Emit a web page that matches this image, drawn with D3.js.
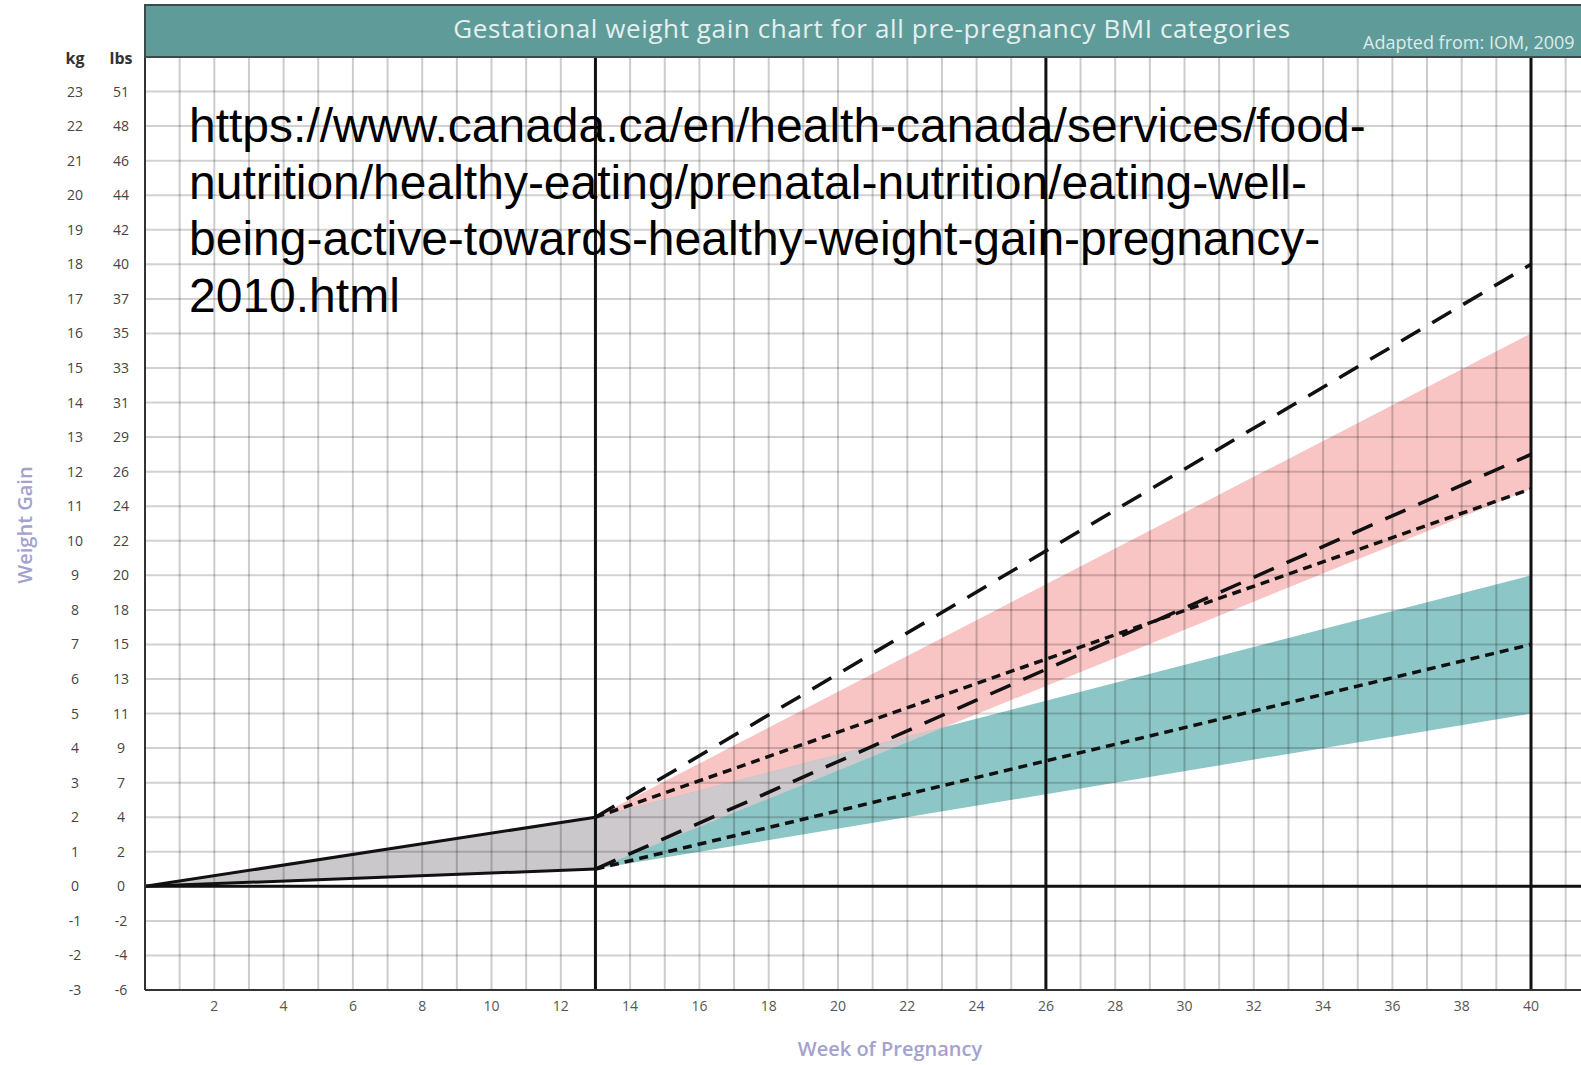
<!DOCTYPE html>
<html>
<head>
<meta charset="utf-8">
<script src="https://cdn.jsdelivr.net/npm/d3@7"></script>
<style>
  html, body { margin: 0; padding: 0; background: #ffffff; }
  svg { display: block; }
</style>
</head>
<body>
<script>
// ---------------- data ----------------
const chartTitle = "Gestational weight gain chart for all pre-pregnancy BMI categories";
const sourceNote = "Adapted from: IOM, 2009";
const xTitle = "Week of Pregnancy";
const yTitle = "Weight Gain";
const weekTicks = [2, 4, 6, 8, 10, 12, 14, 16, 18, 20, 22, 24, 26, 28, 30, 32, 34, 36, 38, 40];
const kgTicks = [23, 22, 21, 20, 19, 18, 17, 16, 15, 14, 13, 12, 11, 10, 9, 8, 7, 6, 5, 4, 3, 2, 1, 0, -1, -2, -3];
const lbsTicks = [51, 48, 46, 44, 42, 40, 37, 35, 33, 31, 29, 26, 24, 22, 20, 18, 15, 13, 11, 9, 7, 4, 2, 0, -2, -4, -6];
const trimesterMarks = [13, 26, 40];

// first trimester (weeks 0 -> 13)
const firstWeeks = [0, 13];
const firstLow = [0, 0.5];
const firstHigh = [0, 2];

// second and third trimesters (weeks 13 -> 40), kg
const laterWeeks = [13, 40];
const normalLow = [0.5, 11.5];   // pink band
const normalHigh = [2, 16];
const obeseLow = [0.5, 5];       // teal band
const obeseHigh = [2, 9];
const underLow = [0.5, 12.5];    // long dashes
const underHigh = [2, 18];
const overLow = [0.5, 7];        // short dashes
const overHigh = [2, 11.5];

const urlLines = [
  "https://www.canada.ca/en/health-canada/services/food-",
  "nutrition/healthy-eating/prenatal-nutrition/eating-well-",
  "being-active-towards-healthy-weight-gain-pregnancy-",
  "2010.html"
];

// ---------------- layout ----------------
const W = 1581, H = 1065;
const left = 145, headerTop = 5, plotTop = 57, plotBottom = 990;
const x = d3.scaleLinear().domain([0, 40]).range([left, 1531]);
const y = d3.scaleLinear().domain([-3, 24]).range([plotBottom, plotTop]);
const xMax = x.invert(W + 5);

const svg = d3.select("body").append("svg").attr("width", W).attr("height", H);

const band = (lo, hi) => laterWeeks.map((w, i) => ({ w, lo: lo[i], hi: hi[i] }));
const area = d3.area().x(d => x(d.w)).y0(d => y(d.lo)).y1(d => y(d.hi));
const lineOf = vals => d3.line().x((d, i) => x(laterWeeks[i])).y(d => y(d))(vals);

// clip for plot area
svg.append("clipPath").attr("id", "plotclip").append("rect")
  .attr("x", left).attr("y", plotTop).attr("width", W - left + 10).attr("height", plotBottom - plotTop);

const plot = svg.append("g").attr("clip-path", "url(#plotclip)");

// bands
plot.append("path").datum(band(normalLow, normalHigh)).attr("d", area).attr("fill", "#f9c4c4");
plot.append("path").datum(band(obeseLow, obeseHigh)).attr("d", area).attr("fill", "#8dc6c6");
svg.append("clipPath").attr("id", "pinkclip").append("path")
  .datum(band(normalLow, normalHigh)).attr("d", area);
plot.append("g").attr("clip-path", "url(#pinkclip)").append("path")
  .datum(band(obeseLow, obeseHigh)).attr("d", area).attr("fill", "#cdc9cc");

// first trimester fill
const firstData = firstWeeks.map((w, i) => ({ w, lo: firstLow[i], hi: firstHigh[i] }));
plot.append("path").datum(firstData).attr("d", area).attr("fill", "#cac8ca");

// grid
const gridWeeks = d3.range(1, Math.floor(xMax) + 1);
const gridKg = d3.range(-2, 24);
plot.append("g").selectAll("line").data(gridWeeks).join("line")
  .attr("x1", d => x(d)).attr("x2", d => x(d))
  .attr("y1", plotTop).attr("y2", plotBottom)
  .attr("stroke", "rgba(0,0,0,0.2)").attr("stroke-width", 2);
plot.append("g").selectAll("line").data(gridKg).join("line")
  .attr("x1", left).attr("x2", W + 5)
  .attr("y1", d => y(d)).attr("y2", d => y(d))
  .attr("stroke", "rgba(0,0,0,0.18)").attr("stroke-width", 2);

// heavy reference lines
plot.append("line").attr("x1", left).attr("x2", W + 5).attr("y1", y(0)).attr("y2", y(0))
  .attr("stroke", "#111").attr("stroke-width", 3);
plot.append("g").selectAll("line").data(trimesterMarks).join("line")
  .attr("x1", d => x(d)).attr("x2", d => x(d))
  .attr("y1", plotTop).attr("y2", plotBottom)
  .attr("stroke", "#111").attr("stroke-width", 3);

// dashed guide lines
const dashStyle = (p, dash) => p.attr("fill", "none").attr("stroke", "#111")
  .attr("stroke-width", 3.5).attr("stroke-dasharray", dash);
dashStyle(plot.append("path").attr("d", lineOf(underHigh)), "22,14");
dashStyle(plot.append("path").attr("d", lineOf(underLow)), "22,14");
dashStyle(plot.append("path").attr("d", lineOf(overHigh)), "9,6");
dashStyle(plot.append("path").attr("d", lineOf(overLow)), "9,6");

// first trimester solid lines
const firstLine = vals => d3.line().x((d, i) => x(firstWeeks[i])).y(d => y(d))(vals);
plot.append("path").attr("d", firstLine(firstHigh)).attr("fill", "none").attr("stroke", "#111").attr("stroke-width", 3);
plot.append("path").attr("d", firstLine(firstLow)).attr("fill", "none").attr("stroke", "#111").attr("stroke-width", 3);

// borders
svg.append("line").attr("x1", left).attr("x2", left).attr("y1", headerTop).attr("y2", plotBottom)
  .attr("stroke", "#333").attr("stroke-width", 2);
svg.append("line").attr("x1", left).attr("x2", W + 5).attr("y1", plotBottom).attr("y2", plotBottom)
  .attr("stroke", "#333").attr("stroke-width", 2);

// header
svg.append("rect").attr("x", left).attr("y", headerTop).attr("width", W - left + 20).attr("height", plotTop - headerTop)
  .attr("fill", "#5f9b99").attr("stroke", "#3d4a4a").attr("stroke-width", 2);
svg.append("text").attr("x", 872).attr("y", 38).attr("text-anchor", "middle")
  .attr("font-family", "'Open Sans', sans-serif").attr("font-size", 26).attr("letter-spacing", 0.6)
  .attr("fill", "#e3f0ef").text(chartTitle);
svg.append("text").attr("x", 1363).attr("y", 49)
  .attr("font-family", "'Open Sans', sans-serif").attr("font-size", 18).attr("fill", "#dcebea")
  .text(sourceNote);

// y labels
const labFont = "'Open Sans', sans-serif";
svg.append("g").selectAll("text").data(kgTicks).join("text")
  .attr("x", 75).attr("y", d => y(d) + 5).attr("text-anchor", "middle")
  .attr("font-family", labFont).attr("font-size", 14).attr("fill", "#444").text(d => d);
svg.append("g").selectAll("text").data(lbsTicks).join("text")
  .attr("x", 121).attr("y", (d, i) => y(kgTicks[i]) + 5).attr("text-anchor", "middle")
  .attr("font-family", labFont).attr("font-size", 14).attr("fill", "#444").text(d => d);
svg.append("text").attr("x", 75).attr("y", 64).attr("text-anchor", "middle")
  .attr("font-family", labFont).attr("font-size", 16).attr("font-weight", "bold").attr("fill", "#333").text("kg");
svg.append("text").attr("x", 121).attr("y", 64).attr("text-anchor", "middle")
  .attr("font-family", labFont).attr("font-size", 16).attr("font-weight", "bold").attr("fill", "#333").text("lbs");

// x labels
svg.append("g").selectAll("text").data(weekTicks).join("text")
  .attr("x", d => x(d)).attr("y", 1011).attr("text-anchor", "middle")
  .attr("font-family", labFont).attr("font-size", 14).attr("fill", "#555").text(d => d);

// axis titles
svg.append("text").attr("x", 890).attr("y", 1056).attr("text-anchor", "middle")
  .attr("font-family", labFont).attr("font-size", 20).attr("font-weight", 600).attr("fill", "#a3a2cf").text(xTitle);
svg.append("text").attr("transform", "translate(32,525) rotate(-90)").attr("text-anchor", "middle")
  .attr("font-family", labFont).attr("font-size", 20).attr("font-weight", 600).attr("fill", "#a3a2cf").text(yTitle);

// overlay url text
svg.append("g").selectAll("text").data(urlLines).join("text")
  .attr("x", 189).attr("y", (d, i) => 142 + i * 56.7)
  .attr("font-family", "'Liberation Sans', Arial, sans-serif").attr("font-size", 48).attr("fill", "#000")
  .text(d => d);
</script>
</body>
</html>
